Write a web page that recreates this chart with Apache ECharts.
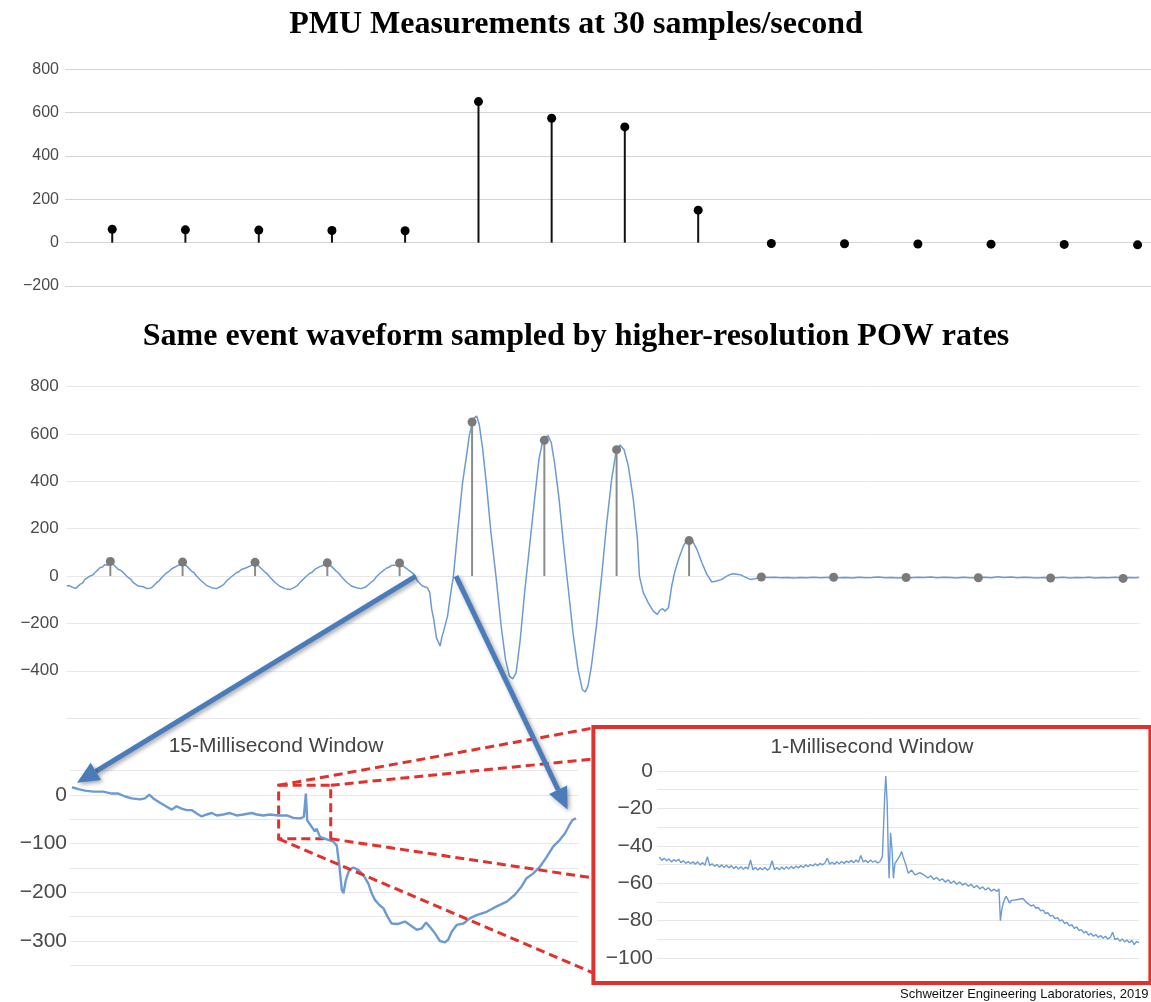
<!DOCTYPE html>
<html>
<head>
<meta charset="utf-8">
<title>PMU vs POW sampling</title>
<script src="https://cdn.jsdelivr.net/npm/echarts@6/dist/echarts.min.js"></script>
<style>
  html, body { margin: 0; padding: 0; background: #fff; }
  #main { width: 1151px; height: 1002px; }
</style>
</head>
<body>
<div id="main"></div>
<script>
// ---- PMU phasor samples (one every 33.3 ms, i.e. 30 samples/second) ----
const sampleTimes = [0, 33.3, 66.7, 100, 133.3, 166.7, 200, 233.3, 266.7, 300, 333.3, 366.7, 400, 433.3, 466.7];
const pmuValues   = [62, 59, 58, 56, 55, 651, 574, 534, 150, -4, -5, -6, -7, -8, -10];

// ---- Point-on-wave record of the same event (ms, amplitude) ----
const powTimes = [
  -20.1, -18.9, -17.8, -15.9, -14.0, -12.8, -11.7, -9.4, -8.2, -7.1, -4.8, -3.6, -2.5, -1.0, 0,
  1.4, 3.7, 4.9, 6.0, 8.3, 9.5, 10.6, 12.9, 15.2, 17.0, 19.0, 21.3, 22.5, 23.6, 26.0, 27.1, 28.3, 30.6, 32.1, 33.3,
  35.2, 37.4, 38.6, 39.7, 42.0, 44.3, 46.6, 48.9, 51.2, 52.4, 53.5, 55.8, 58.1, 59.2, 60.4, 62.7, 65.0, 66.7,
  68.8, 71.2, 72.3, 73.5, 75.8, 78.1, 80.4, 82.7, 85.0, 86.2, 87.3, 89.6, 91.9, 93.0, 94.2, 96.5, 98.8, 100,
  101.8, 104.1, 105.3, 106.5, 108.8, 111.1, 113.4, 115.7, 118.0, 120.3, 121.5, 122.6, 124.9, 127.2, 128.4, 129.5, 131.8, 133.3,
  136.1, 140.0, 141.5, 143.8, 146.1, 147.2, 148.1, 148.9, 149.7, 150.3, 151.2, 152.0, 152.7, 153.8, 155.4, 156.9,
  158.1, 160.0, 162.3, 163.9, 165.4, 167.2, 168.8, 170.0, 171.6, 173.4, 175.4, 177.7, 180.1, 182.1, 183.9, 185.5,
  187.0, 188.9, 190.9, 193.2, 195.5, 197.5, 199.4, 201.7, 203.2, 204.7, 206.8, 208.9, 210.9, 213.2, 215.5, 217.5,
  218.8, 220.1, 221.7, 224.0, 226.4, 228.6, 231.0, 233.0, 234.8, 236.7, 238.7, 241.0, 242.9, 243.8, 245.6, 247.9,
  250.2, 252.1, 253.3, 254.5, 255.6, 257.2, 258.7, 260.0, 261.8, 264.1, 266.4, 267.9, 270.3, 272.6, 274.9, 277.2,
  279.5, 281.8, 284.1, 285.7, 287.0, 290.2, 294.8, 297.0,
  300, 303, 306, 309, 312, 315, 318, 321, 324, 327, 330, 333.3, 336, 339, 342, 345, 348, 351, 354, 357,
  360, 363, 366.7, 369, 372, 375, 378, 381, 384, 387, 390, 393, 396, 400, 403, 406, 409, 412, 415, 418,
  421, 424, 427, 430, 433.3, 436, 439, 442, 445, 448, 451, 454, 457, 460, 463, 466.7, 469, 472, 474
];
const powValues = [
  -42, -40, -46, -52, -35, -30, -14, 0, 4, 14, 35, 38, 49, 45, 62,
  49, 28, 24, 14, -7, -14, -28, -42, -45, -53, -49, -28, -20, -7, 14, 20, 31, 42, 49, 59,
  42, 21, 14, 0, -21, -39, -49, -53, -42, -34, -21, -3, 14, 18, 28, 35, 45, 58,
  38, 17, 10, -4, -26, -43, -53, -57, -47, -40, -28, -7, 12, 16, 28, 40, 48, 56,
  42, 21, 12, -3, -25, -42, -49, -53, -44, -25, -17, -3, 17, 33, 37, 45, 47, 55,
  35, 7, -21, -42, -49, -70, -141, -176, -225, -261, -268, -296, -261, -225, -169, -70,
  0, 183, 394, 493, 592, 665, 676, 641, 535, 380, 183, 0, -211, -352, -423, -434,
  -408, -268, -70, 127, 324, 493, 577, 594, 563, 479, 324, 127, -42, -239, -394, -479,
  -490, -465, -380, -211, 0, 211, 408, 521, 554, 535, 465, 324, 155, 0, -70, -113,
  -148, -162, -144, -138, -148, -134, -42, 14, 70, 127, 162, 155, 113, 56, 7, -25,
  -21, -14, 0, 7, 10, 6, -14, -11,
  -4, -6, -5, -7, -6, -8, -6, -7, -5, -7, -6, -5, -7, -6, -8, -5, -7, -6, -4, -7,
  -6, -8, -6, -7, -5, -6, -4, -7, -5, -6, -8, -5, -7, -7, -5, -7, -3, -6, -4, -7,
  -5, -6, -8, -6, -7, -7, -5, -8, -6, -7, -5, -8, -6, -7, -5, -8, -6, -7, -6
];

// ---- 15-millisecond window at the fault inception ----
const winTimes15 = [
  0, 0.04, 0.19, 0.39, 0.63, 0.93, 1.18, 1.38, 1.58, 1.78, 2.02, 2.17, 2.30, 2.42, 2.62, 2.82, 2.97,
  3.11, 3.26, 3.41, 3.56, 3.71, 3.86, 4.01, 4.16, 4.31, 4.50, 4.70, 4.90, 5.10, 5.35, 5.50, 5.69,
  5.89, 6.14, 6.39, 6.59, 6.79, 6.90, 6.96, 7.00, 7.08, 7.23, 7.28, 7.38, 7.58, 7.78, 7.88, 7.96,
  8.03, 8.08, 8.15, 8.25, 8.37, 8.52, 8.67, 8.82, 8.92, 9.02, 9.15, 9.27, 9.39, 9.51, 9.71, 9.91,
  10.06, 10.26, 10.41, 10.54, 10.65, 10.80, 10.95, 11.10, 11.20, 11.30, 11.45, 11.65, 11.85, 12.04,
  12.34, 12.64, 12.94, 13.18, 13.38, 13.53, 13.73, 13.93, 14.13, 14.32, 14.52, 14.67, 14.80, 14.90, 15.0
];
const winValues15 = [
  16, 17, 12, 9, 7, 7, 3, 3, -3, -7, -9, -7, 1, -7, -16, -24, -30,
  -23, -28, -31, -31, -38, -44, -40, -37, -42, -40, -37, -42, -40, -37, -40, -42,
  -40, -42, -42, -47, -48, -45, 3, -52, -60, -75, -69, -86, -91, -96, -104, -147,
  -195, -202, -175, -154, -149, -154, -164, -182, -202, -216, -226, -233, -250, -264, -265, -260,
  -267, -277, -274, -262, -271, -284, -300, -303, -297, -281, -267, -264, -253, -247,
  -240, -229, -219, -205, -188, -171, -161, -147, -127, -106, -92, -79, -62, -51, -48
];

// ---- 1-millisecond window around the inception transient ----
const winTimes1 = [
  0.000, 0.005, 0.010, 0.015, 0.020, 0.025, 0.030, 0.035, 0.040, 0.045, 0.050, 0.055, 0.060, 0.065, 0.070, 0.075,
  0.080, 0.085, 0.090, 0.095, 0.100, 0.105, 0.110, 0.115, 0.120, 0.125, 0.130, 0.135, 0.140, 0.145, 0.150, 0.155,
  0.160, 0.165, 0.170, 0.175, 0.180, 0.185, 0.190, 0.195, 0.200, 0.205, 0.210, 0.215, 0.220, 0.225, 0.230, 0.235,
  0.240, 0.245, 0.250, 0.255, 0.260, 0.265, 0.270, 0.275, 0.280, 0.285, 0.290, 0.295, 0.300, 0.305, 0.310, 0.315,
  0.320, 0.325, 0.330, 0.335, 0.340, 0.345, 0.350, 0.355, 0.360, 0.365, 0.370, 0.375, 0.380, 0.385, 0.390, 0.395,
  0.400, 0.405, 0.410, 0.415, 0.420, 0.425, 0.430, 0.435, 0.440, 0.445, 0.450, 0.455, 0.460,
  0.465, 0.470, 0.472, 0.475, 0.477, 0.479, 0.482, 0.485, 0.488, 0.491, 0.496, 0.502, 0.505, 0.508,
  0.514, 0.519, 0.526, 0.533, 0.543, 0.554,
  0.560, 0.566, 0.572, 0.578, 0.584, 0.590, 0.596, 0.602, 0.608, 0.614, 0.620, 0.626, 0.632, 0.638, 0.644, 0.650,
  0.656, 0.662, 0.668, 0.674, 0.680, 0.686, 0.692, 0.698, 0.704, 0.708, 0.711, 0.714, 0.717, 0.720, 0.723, 0.727,
  0.730, 0.734, 0.738, 0.742, 0.746, 0.750, 0.754, 0.758, 0.762, 0.766, 0.770, 0.775, 0.780, 0.785, 0.790, 0.795,
  0.800, 0.805, 0.810, 0.815, 0.820, 0.825, 0.830, 0.835, 0.840, 0.845, 0.850, 0.855, 0.860, 0.865, 0.870, 0.875,
  0.880, 0.885, 0.890, 0.895, 0.900, 0.905, 0.910, 0.915, 0.920, 0.925, 0.930, 0.935, 0.940, 0.945, 0.950, 0.955,
  0.960, 0.965, 0.970, 0.975, 0.980, 0.985, 0.990, 0.995, 1.000
];
const winValues1 = [
  -46.0, -47.8, -46.6, -48.0, -47.0, -48.6, -47.4, -48.2, -47.2, -49.0, -48.0, -49.4, -48.4, -49.6, -48.6, -49.8,
  -48.6, -50.2, -49.0, -50.4, -45.8, -50.6, -49.6, -51.0, -50.0, -51.4, -50.2, -51.6, -50.4, -51.8, -50.6, -52.2,
  -51.0, -52.4, -51.2, -52.6, -51.4, -52.4, -47.6, -52.8, -51.6, -53.0, -51.8, -52.8, -51.6, -53.0, -52.0, -48.0,
  -52.8, -51.6, -52.8, -51.4, -52.6, -51.2, -52.4, -51.0, -52.2, -50.8, -51.8, -50.6, -51.6, -50.2, -51.2, -50.0,
  -50.8, -49.6, -50.6, -49.4, -50.2, -49.2, -46.6, -49.8, -48.8, -49.8, -48.6, -49.6, -48.4, -49.4, -48.2, -49.0,
  -47.8, -49.0, -47.6, -48.8, -45.2, -48.6, -47.8, -49.0, -47.6, -48.8, -48.0, -49.2, -48.4,
  -45.8, -12, -2.7, -17.3, -42, -57.4, -33, -42, -57.4, -49.4, -47.6, -45, -43, -45.8,
  -50.3, -54.7, -53, -55.6, -54.4, -56,
  -57.2, -56.0, -58.0, -57.0, -58.6, -57.6, -59.4, -58.2, -60.0, -58.8, -60.6, -59.4, -61.0, -60.0, -61.6, -60.6,
  -62.4, -61.2, -63.0, -62.0, -63.6, -62.4, -64.2, -63.2, -64.4, -63.0, -80, -74, -70.6, -68.4, -67, -69.0,
  -70.6, -69.2, -70.2, -69.0, -70, -68.6, -69.4, -68.2, -68.8, -70.4, -71.0, -72.2, -71.6, -73.4, -73.0, -74.8,
  -74.4, -76.2, -75.8, -77.6, -77.2, -79.0, -78.4, -80.2, -79.6, -81.6, -81.0, -82.8, -82.2, -84.2, -83.4, -85.4,
  -84.8, -86.6, -85.8, -87.8, -86.8, -88.4, -87.4, -89.0, -88.0, -89.4, -88.4, -89.8, -89.0, -86.2, -90.2, -89.4,
  -91.0, -89.8, -91.4, -90.4, -91.8, -90.6, -92.8, -91.2, -91.8
];

const WAVE = '#6b9bd2';
const ARROW = '#4a7cbc';
const RED = '#e2302a';
const LABEL = '#4a4a4a';
const SANS = '"Liberation Sans", Arial, sans-serif';
const SERIF = '"Liberation Serif", "Times New Roman", serif';

const pairs = (xs, ys) => xs.map((x, i) => [x, ys[i]]);
const minus = v => (v < 0 ? '\u2212' + Math.abs(v) : String(v));

function valueY(min, max, interval, fontSize, margin, gridColor, show) {
  return {
    type: 'value', min, max, interval,
    axisLine: { show: false }, axisTick: { show: false },
    axisLabel: {
      color: LABEL, fontSize, fontFamily: SANS, margin,
      formatter: v => (show(v) ? minus(v) : '')
    },
    splitLine: { lineStyle: { color: gridColor, width: 1 } }
  };
}
function hiddenX(min, max, gridIndex) {
  return { type: 'value', gridIndex, min, max, show: false, splitLine: { show: false } };
}

const chart = echarts.init(document.getElementById('main'));

const option = {
  animation: false,
  backgroundColor: '#fff',
  grid: [
    { left: 65, top: 69.3, width: 1086, height: 216.7 },
    { left: 66.7, top: 386.7, width: 1072.9, height: 331.4 },
    { left: 70, top: 770.7, width: 508, height: 194.6 },
    { left: 657, top: 771, width: 482, height: 187 }
  ],
  xAxis: [
    hiddenX(-21.5, 472.8, 0),
    hiddenX(-20.1, 474.3, 1),
    hiddenX(-0.06, 15.06, 2),
    hiddenX(-0.005, 1.0, 3)
  ],
  yAxis: [
    Object.assign(valueY(-200, 800, 200, 16, 6, '#d4d4d4', () => true), { gridIndex: 0 }),
    Object.assign(valueY(-600, 800, 200, 17, 8, '#e8e8e8', v => v > -600), { gridIndex: 1 }),
    Object.assign(valueY(-350, 50, 50, 21, 3, '#e8e8e8', v => v % 100 === 0 && v <= 0 && v >= -300), { gridIndex: 2 }),
    Object.assign(valueY(-100, 0, 10, 21, 4, '#e6e6e6', v => v % 20 === 0), { gridIndex: 3 })
  ],
  series: [
    // PMU stems and heads
    { type: 'bar', xAxisIndex: 0, yAxisIndex: 0, barWidth: 2, silent: true,
      itemStyle: { color: '#111' }, data: pairs(sampleTimes, pmuValues) },
    { type: 'scatter', xAxisIndex: 0, yAxisIndex: 0, symbolSize: 9, silent: true,
      itemStyle: { color: '#000', opacity: 1 }, data: pairs(sampleTimes, pmuValues) },
    // POW waveform with the PMU samples overlaid
    { type: 'line', xAxisIndex: 1, yAxisIndex: 1, showSymbol: false, silent: true,
      lineStyle: { color: WAVE, width: 1.5 }, data: pairs(powTimes, powValues), z: 2 },
    { type: 'bar', xAxisIndex: 1, yAxisIndex: 1, barWidth: 2, silent: true,
      itemStyle: { color: '#8c8c8c' }, data: pairs(sampleTimes, pmuValues), z: 3 },
    { type: 'scatter', xAxisIndex: 1, yAxisIndex: 1, symbolSize: 9, silent: true,
      itemStyle: { color: '#7a7a7a', opacity: 1 }, data: pairs(sampleTimes, pmuValues), z: 4 },
    // 15 ms window, with the 1 ms zoom region outlined
    { type: 'line', xAxisIndex: 2, yAxisIndex: 2, showSymbol: false, silent: true,
      lineStyle: { color: WAVE, width: 2.4 }, data: pairs(winTimes15, winValues15),
      markArea: {
        silent: true,
        itemStyle: { color: 'rgba(0,0,0,0)', borderColor: RED, borderWidth: 3, borderType: [9, 5] },
        data: [[{ xAxis: 6.15, yAxis: 20 }, { xAxis: 7.7, yAxis: -90 }]]
      } },
    // 1 ms window
    { type: 'line', xAxisIndex: 3, yAxisIndex: 3, showSymbol: false, silent: true,
      lineStyle: { color: WAVE, width: 1.4 }, data: pairs(winTimes1, winValues1) }
  ]
};
chart.setOption(option);

// ---- annotations anchored to the axes ----
const px = (i, pt) => chart.convertToPixel({ xAxisIndex: i, yAxisIndex: i }, pt);

function arrow(from, to) {
  const dx = to[0] - from[0], dy = to[1] - from[1];
  const len = Math.hypot(dx, dy);
  const ux = dx / len, uy = dy / len;
  const head = 22, half = 10;
  const bx = to[0] - ux * head, by = to[1] - uy * head;
  const shadow = { shadowBlur: 4, shadowColor: 'rgba(0,0,0,0.35)', shadowOffsetX: 2, shadowOffsetY: 2 };
  return [
    { type: 'line', z: 110, shape: { x1: from[0], y1: from[1], x2: bx, y2: by },
      style: Object.assign({ stroke: ARROW, lineWidth: 5 }, shadow) },
    { type: 'polygon', z: 110,
      shape: { points: [to, [bx - uy * half, by + ux * half], [bx + uy * half, by - ux * half]] },
      style: Object.assign({ fill: ARROW }, shadow) }
  ];
}

function dashed(a, b) {
  return { type: 'line', z: 100, shape: { x1: a[0], y1: a[1], x2: b[0], y2: b[1] },
    style: { stroke: RED, lineWidth: 3, lineDash: [9, 5] } };
}

function text(str, x, y, font, fill, align) {
  return { type: 'text', z: 120,
    style: { text: str, x, y, font, fill, textAlign: align || 'center', textVerticalAlign: 'middle' } };
}

// small zoom box corners in the 15 ms window
const tl = px(2, [6.15, 20]), br = px(2, [7.7, -90]);
const tr = [br[0], tl[1]], bl = [tl[0], br[1]];

// frame around the 1 ms window
const o1 = px(3, [0, 0]);
const box = { x: o1[0] - 66, y: o1[1] - 44, w: 557, h: 256 };

const graphics = []
  .concat(arrow(px(1, [140.8, 0]), px(2, [0.15, 25])))
  .concat(arrow(px(1, [159.3, 0]), px(2, [14.75, -30])))
  .concat([
    dashed(tl, [box.x, box.y + 1]),
    dashed(tr, [box.x, box.y + 32]),
    dashed(br, [box.x, box.y + 151]),
    dashed(bl, [box.x, box.y + 246]),
    { type: 'rect', z: 105, shape: { x: box.x, y: box.y, width: box.w, height: box.h },
      style: { fill: 'none', stroke: RED, lineWidth: 4 } },
    text('PMU Measurements at 30 samples/second', 576, 25, 'bold 32px ' + SERIF, '#000'),
    text('Same event waveform sampled by higher-resolution POW rates', 576, 337, 'bold 32px ' + SERIF, '#000'),
    text('15-Millisecond Window', 276, 746, '21px ' + SANS, '#444'),
    text('1-Millisecond Window', 872, 747, '21px ' + SANS, '#444'),
    text('Schweitzer Engineering Laboratories, 2019', 900, 994, '13px ' + SANS, '#111', 'left')
  ]);

chart.setOption({ graphic: graphics });
</script>
</body>
</html>
